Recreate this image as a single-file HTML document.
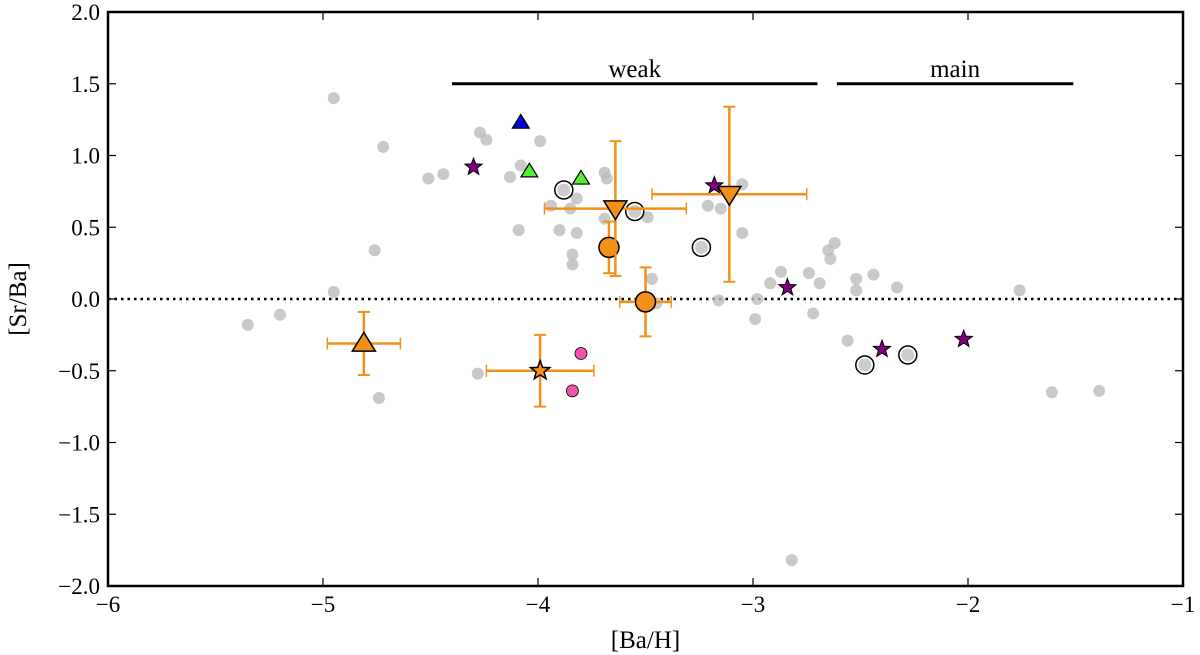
<!DOCTYPE html>
<html><head><meta charset="utf-8"><style>
body{margin:0;background:#fff}
svg{display:block;font-family:"Liberation Serif",serif}
</style></head><body>
<svg id="chart" width="1200" height="655"></svg>
<script>
const xTicks=[-6,-5,-4,-3,-2,-1];
const yTicks=[2.0,1.5,1.0,0.5,0.0,-0.5,-1.0,-1.5,-2.0];
const grayX=[-4.95,-4.72,-4.27,-4.24,-3.99,-4.51,-4.44,-4.08,-4.13,-3.82,-3.94,-3.85,-3.69,-3.68,-3.69,-3.49,-4.09,-3.90,-3.82,-3.84,-3.84,-4.76,-4.95,-3.21,-3.15,-3.05,-3.05,-3.47,-3.16,-2.98,-2.92,-2.99,-3.45,-5.35,-5.20,-4.74,-4.28,-2.87,-2.74,-2.69,-2.72,-2.65,-2.62,-2.64,-2.56,-2.52,-2.52,-2.44,-2.33,-1.76,-1.61,-1.39,-2.82];
const grayY=[1.40,1.06,1.16,1.11,1.10,0.84,0.87,0.93,0.85,0.70,0.65,0.63,0.88,0.84,0.56,0.57,0.48,0.48,0.46,0.31,0.24,0.34,0.05,0.65,0.63,0.80,0.46,0.14,-0.01,0.00,0.11,-0.14,-0.03,-0.18,-0.11,-0.69,-0.52,0.19,0.18,0.11,-0.10,0.34,0.39,0.28,-0.29,0.14,0.06,0.17,0.08,0.06,-0.65,-0.64,-1.82];
const openX=[-3.88,-3.55,-3.24,-2.48,-2.28];
const openY=[0.76,0.61,0.36,-0.46,-0.39];
const starX=[-4.30,-3.18,-2.84,-2.40,-2.02];
const starY=[0.92,0.79,0.08,-0.35,-0.28];
const blueX=[-4.08], blueY=[1.23];
const greenX=[-4.04,-3.80], greenY=[0.89,0.84];
const pinkX=[-3.80,-3.84], pinkY=[-0.38,-0.64];
const orX=[-4.81,-3.99,-3.67,-3.64,-3.50,-3.11];
const orY=[-0.31,-0.50,0.36,0.63,-0.02,0.73];
const orXerr=[0.17,0.25,0,0.33,0.12,0.36];
const orYerr=[0.22,0.25,0.18,0.47,0.24,0.61];
const orShape=['up','star','circle','down','circle','down'];
const ranges=[{name:'weak',x0:-4.40,x1:-2.70},{name:'main',x0:-2.61,x1:-1.51}];

const L=108,R=1183,T=12,B=586;
const sx=v=>L+(v+6)/5*(R-L);
const sy=v=>T+(2-v)/4*(B-T);
const svg=document.getElementById('chart');
const NS='http://www.w3.org/2000/svg';
function mk(tag,at,parent){const e=document.createElementNS(NS,tag);for(const k in at)e.setAttribute(k,at[k]);(parent||svg).appendChild(e);return e;}
function starPts(cx,cy,r){let p=[];for(let i=0;i<10;i++){const a=-Math.PI/2+i*Math.PI/5;const rr=i%2?r*0.42:r;p.push((cx+rr*Math.cos(a)).toFixed(1)+','+(cy+rr*Math.sin(a)).toFixed(1));}return p.join(' ');}
function tri(cx,cy,r,up){return up?`${cx},${cy-r} ${cx-r*1.05},${cy+r*0.7} ${cx+r*1.05},${cy+r*0.7}`:`${cx},${cy+r} ${cx-r*1.05},${cy-r*0.7} ${cx+r*1.05},${cy-r*0.7}`;}

let zl=mk('line',{x1:L,x2:R,y1:sy(0),y2:sy(0),stroke:'#000','stroke-width':2.5,'stroke-dasharray':'2.5,4'});


grayX.forEach((x,i)=>{const c=mk('circle',{cx:sx(x),cy:sy(grayY[i]),r:6,fill:'#bbb','fill-opacity':0.8});

});
openX.forEach((x,i)=>{const g=mk('g',{});


mk('circle',{cx:sx(x),cy:sy(openY[i]),r:9,fill:'#fff',stroke:'#000','stroke-width':1.5},g);
mk('circle',{cx:sx(x),cy:sy(openY[i]),r:6.5,fill:'#ccc'},g);});
pinkX.forEach((x,i)=>{const c=mk('circle',{cx:sx(x),cy:sy(pinkY[i]),r:6,fill:'#ee55aa',stroke:'#000','stroke-width':0.8});

});
starX.forEach((x,i)=>{const p=mk('polygon',{points:starPts(sx(x),sy(starY[i]),9),fill:'#800080',stroke:'#000','stroke-width':1});

});
blueX.forEach((x,i)=>{const p=mk('polygon',{points:tri(sx(x),sy(blueY[i]),8,true),fill:'#0000dd',stroke:'#000','stroke-width':1.2});

});
greenX.forEach((x,i)=>{const p=mk('polygon',{points:tri(sx(x),sy(greenY[i]),8,true),fill:'#55ee33',stroke:'#000','stroke-width':1.2});

});
const OC='#f39019';
orX.forEach((x,i)=>{
  const g=mk('g',{});
  
  
  const cx=sx(x),cy=sy(orY[i]);
  if(orXerr[i]>0){const a=sx(x-orXerr[i]),b=sx(x+orXerr[i]);
    mk('line',{x1:a,x2:b,y1:cy,y2:cy,stroke:OC,'stroke-width':2.5},g);
    mk('line',{x1:a,x2:a,y1:cy-6,y2:cy+6,stroke:OC,'stroke-width':1.5},g);
    mk('line',{x1:b,x2:b,y1:cy-6,y2:cy+6,stroke:OC,'stroke-width':1.5},g);}
  const t=sy(orY[i]+orYerr[i]),bb=sy(orY[i]-orYerr[i]);
  mk('line',{x1:cx,x2:cx,y1:t,y2:bb,stroke:OC,'stroke-width':2.5},g);
  mk('line',{x1:cx-6,x2:cx+6,y1:t,y2:t,stroke:OC,'stroke-width':2},g);
  mk('line',{x1:cx-6,x2:cx+6,y1:bb,y2:bb,stroke:OC,'stroke-width':2},g);
  const s=orShape[i],st={fill:OC,stroke:'#000','stroke-width':1.5};
  if(s==='circle')mk('circle',Object.assign({cx,cy,r:10},st),g);
  else if(s==='star')mk('polygon',Object.assign({points:starPts(cx,cy,10)},st),g);
  else mk('polygon',Object.assign({points:tri(cx,cy,11,s==='up')},st),g);
});
ranges.forEach(r=>{const g=mk('g',{});


mk('line',{x1:sx(r.x0),x2:sx(r.x1),y1:sy(1.5),y2:sy(1.5),stroke:'#000','stroke-width':3},g);
const t=mk('text',{x:(sx(r.x0)+sx(r.x1))/2,y:sy(1.5)-7,'text-anchor':'middle','font-size':25},g);t.textContent=r.name;});
const fr=mk('rect',{x:L,y:T,width:R-L,height:B-T,fill:'none',stroke:'#000','stroke-width':2.5});


xTicks.forEach(v=>{const x=sx(v);mk('line',{x1:x,x2:x,y1:B,y2:B-8,stroke:'#000','stroke-width':1.2});mk('line',{x1:x,x2:x,y1:T,y2:T+8,stroke:'#000','stroke-width':1.2});
const t=mk('text',{x:x,y:B+26,'text-anchor':'middle','font-size':23});t.textContent=(v<0?'\u2212':'')+Math.abs(v);

});
yTicks.forEach(v=>{const y=sy(v);mk('line',{x1:L,x2:L+8,y1:y,y2:y,stroke:'#000','stroke-width':1.2});mk('line',{x1:R,x2:R-8,y1:y,y2:y,stroke:'#000','stroke-width':1.2});
const t=mk('text',{x:L-8,y:y+8,'text-anchor':'end','font-size':23});t.textContent=(v<0?'\u2212':'')+Math.abs(v).toFixed(1);

});
const xl=mk('text',{x:(L+R)/2,y:648,'text-anchor':'middle','font-size':25});xl.textContent='[Ba/H]';


const yl=mk('text',{x:26,y:(T+B)/2,'text-anchor':'middle','font-size':25,transform:`rotate(-90 26 ${(T+B)/2})`});yl.textContent='[Sr/Ba]';


</script>
</body></html>
